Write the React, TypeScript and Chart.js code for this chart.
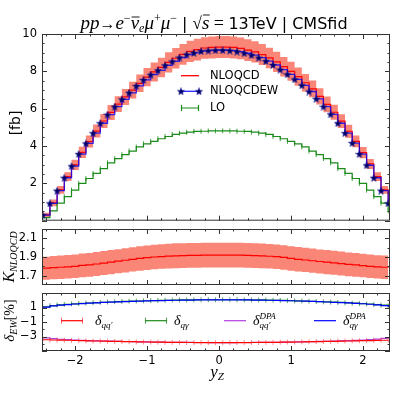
import React, { useEffect, useRef } from "react";
import { Chart, registerables } from "chart.js";
Chart.register(...registerables);

// ---------- data ----------
const binEdges = [-2.45, -2.35, -2.25, -2.15, -2.05, -1.95, -1.85, -1.75, -1.65, -1.55, -1.45, -1.35, -1.25, -1.15, -1.05, -0.95, -0.85, -0.75, -0.65, -0.55, -0.45, -0.35, -0.25, -0.15, -0.05, 0.05, 0.15, 0.25, 0.35, 0.45, 0.55, 0.65, 0.75, 0.85, 0.95, 1.05, 1.15, 1.25, 1.35, 1.45, 1.55, 1.65, 1.75, 1.85, 1.95, 2.05, 2.15, 2.25, 2.35];

const nloqcd = [0.31, 0.95, 1.65, 2.36, 2.99, 3.66, 4.24, 4.80, 5.34, 5.80, 6.24, 6.63, 6.99, 7.36, 7.69, 7.97, 8.21, 8.48, 8.70, 8.91, 9.07, 9.16, 9.25, 9.28, 9.30, 9.30, 9.28, 9.23, 9.14, 9.04, 8.90, 8.72, 8.51, 8.25, 8.00, 7.72, 7.39, 7.06, 6.66, 6.23, 5.81, 5.33, 4.79, 4.25, 3.65, 3.04, 2.36, 1.65, 0.95];
const nloqcdBandHalf = [0.12, 0.18, 0.21, 0.24, 0.27, 0.30, 0.32, 0.35, 0.37, 0.40, 0.42, 0.43, 0.45, 0.47, 0.49, 0.51, 0.52, 0.54, 0.55, 0.56, 0.57, 0.58, 0.58, 0.59, 0.59, 0.59, 0.59, 0.58, 0.58, 0.57, 0.56, 0.55, 0.54, 0.52, 0.51, 0.49, 0.47, 0.45, 0.43, 0.42, 0.40, 0.37, 0.35, 0.32, 0.30, 0.27, 0.24, 0.21, 0.18];
const nloqcdew = [0.30, 0.93, 1.61, 2.30, 2.92, 3.57, 4.14, 4.69, 5.22, 5.68, 6.11, 6.50, 6.85, 7.22, 7.54, 7.82, 8.05, 8.32, 8.53, 8.74, 8.90, 8.99, 9.08, 9.11, 9.13, 9.13, 9.11, 9.06, 8.97, 8.87, 8.73, 8.55, 8.34, 8.09, 7.84, 7.57, 7.25, 6.92, 6.53, 6.11, 5.70, 5.22, 4.69, 4.16, 3.57, 2.97, 2.30, 1.61, 0.93];
const lo = [0.17, 0.53, 0.94, 1.29, 1.64, 2.00, 2.26, 2.53, 2.79, 3.10, 3.33, 3.54, 3.73, 3.95, 4.12, 4.25, 4.39, 4.51, 4.62, 4.69, 4.74, 4.78, 4.79, 4.81, 4.81, 4.81, 4.81, 4.79, 4.78, 4.74, 4.69, 4.62, 4.51, 4.39, 4.25, 4.12, 3.95, 3.73, 3.54, 3.33, 3.10, 2.79, 2.53, 2.26, 2.00, 1.64, 1.29, 0.94, 0.53];

const kNloqcd = [1.78, 1.787, 1.79, 1.795, 1.80, 1.81, 1.815, 1.825, 1.835, 1.845, 1.855, 1.865, 1.875, 1.885, 1.893, 1.90, 1.905, 1.91, 1.913, 1.915, 1.917, 1.918, 1.92, 1.92, 1.92, 1.92, 1.92, 1.92, 1.918, 1.915, 1.912, 1.908, 1.903, 1.895, 1.885, 1.875, 1.868, 1.86, 1.852, 1.845, 1.838, 1.83, 1.822, 1.815, 1.808, 1.80, 1.795, 1.79, 1.787];
const kBandHalf = [0.124, 0.125, 0.125, 0.126, 0.126, 0.127, 0.127, 0.128, 0.128, 0.129, 0.129, 0.130, 0.130, 0.131, 0.131, 0.132, 0.132, 0.132, 0.133, 0.133, 0.133, 0.133, 0.133, 0.133, 0.133, 0.133, 0.133, 0.133, 0.133, 0.133, 0.133, 0.132, 0.132, 0.132, 0.131, 0.131, 0.130, 0.130, 0.129, 0.129, 0.128, 0.128, 0.127, 0.127, 0.126, 0.126, 0.125, 0.125, 0.124];

const deltaQQ = [-3.45, -3.48, -3.50, -3.52, -3.55, -3.57, -3.60, -3.62, -3.64, -3.66, -3.68, -3.70, -3.72, -3.74, -3.76, -3.77, -3.78, -3.80, -3.81, -3.82, -3.83, -3.84, -3.84, -3.85, -3.85, -3.85, -3.85, -3.84, -3.84, -3.83, -3.82, -3.81, -3.80, -3.78, -3.77, -3.76, -3.74, -3.72, -3.70, -3.68, -3.66, -3.64, -3.62, -3.60, -3.58, -3.56, -3.54, -3.52, -3.50];
const deltaQG = [1.10, 1.25, 1.35, 1.43, 1.50, 1.56, 1.62, 1.67, 1.72, 1.76, 1.80, 1.84, 1.87, 1.90, 1.93, 1.96, 1.98, 2.00, 2.02, 2.04, 2.05, 2.06, 2.07, 2.07, 2.07, 2.07, 2.07, 2.07, 2.06, 2.05, 2.04, 2.02, 2.00, 1.98, 1.95, 1.92, 1.89, 1.86, 1.82, 1.78, 1.74, 1.70, 1.65, 1.60, 1.54, 1.48, 1.40, 1.32, 1.22];
const deltaQQdpa = [-3.20, -3.30, -3.38, -3.43, -3.48, -3.52, -3.56, -3.59, -3.62, -3.65, -3.67, -3.69, -3.71, -3.73, -3.75, -3.76, -3.78, -3.79, -3.80, -3.81, -3.82, -3.83, -3.83, -3.84, -3.84, -3.84, -3.84, -3.83, -3.83, -3.82, -3.81, -3.80, -3.79, -3.77, -3.76, -3.74, -3.72, -3.70, -3.68, -3.66, -3.63, -3.60, -3.57, -3.53, -3.48, -3.42, -3.35, -3.25, -3.10];
const deltaQGdpa = [1.05, 1.22, 1.33, 1.41, 1.48, 1.54, 1.60, 1.65, 1.70, 1.74, 1.78, 1.82, 1.85, 1.88, 1.91, 1.94, 1.96, 1.98, 2.00, 2.02, 2.03, 2.04, 2.05, 2.05, 2.05, 2.05, 2.05, 2.05, 2.04, 2.03, 2.02, 2.00, 1.98, 1.96, 1.93, 1.90, 1.87, 1.84, 1.80, 1.76, 1.72, 1.68, 1.63, 1.58, 1.52, 1.45, 1.36, 1.25, 1.08];

const xTickLabels = [-2, -1, 0, 1, 2];
const topYTicks = [2, 4, 6, 8, 10];
const kYTicks = [1.7, 1.9, 2.1];
const ewYTicks = [1, -1, -3];

// ---------- layout / style ----------
const X_MIN = -2.46;
const X_MAX = 2.375;
const AXIS_W = 42;
const PAD_R = 9;
const TICK_FONT = { family: "'DejaVu Sans'", size: 11.5 };
const SALMON = "#f98676";

const pts = (arr: number[]) => binEdges.map((x, i) => ({ x, y: arr[i] }));
const ptsOff = (arr: number[], h: number[], s: number) => binEdges.map((x, i) => ({ x, y: arr[i] + s * h[i] }));
const fmt = (v: number) => (v < 0 ? "\u2212" + String(Math.abs(v)) : String(v));

type Run = { t?: string; f: string; dy?: number; over?: number; sup?: string; sub?: string };
const MI = (s: number) => `italic ${s}px 'Liberation Serif'`;
const RM = (s: number) => `${s}px 'Liberation Serif'`;
const SA = (s: number) => `${s}px 'DejaVu Sans'`;

function runW(ctx: CanvasRenderingContext2D, r: Run) {
  ctx.font = r.f;
  if (r.sup !== undefined) return Math.max(ctx.measureText(r.sup).width, ctx.measureText(r.sub || "").width);
  return ctx.measureText(r.t || "").width;
}
function drawRuns(ctx: CanvasRenderingContext2D, runs: Run[], x: number, y: number, align: "left" | "center") {
  const ws = runs.map((r) => runW(ctx, r));
  const total = ws.reduce((a, b) => a + b, 0);
  let cx = align === "center" ? x - total / 2 : x;
  ctx.textAlign = "left";
  ctx.textBaseline = "alphabetic";
  ctx.fillStyle = "#000";
  runs.forEach((r, i) => {
    ctx.font = r.f;
    if (r.sup !== undefined) {
      ctx.fillText(r.sup, cx, y - 6);
      ctx.fillText(r.sub || "", cx, y + 3);
    } else {
      ctx.fillText(r.t || "", cx, y + (r.dy || 0));
      if (r.over) {
        ctx.save();
        ctx.strokeStyle = "#000";
        ctx.lineWidth = 0.9;
        ctx.beginPath();
        ctx.moveTo(cx + 1, y - r.over);
        ctx.lineTo(cx + ws[i] + 0.5, y - r.over);
        ctx.stroke();
        ctx.restore();
      }
    }
    cx += ws[i];
  });
}
function drawRotated(ctx: CanvasRenderingContext2D, runs: Run[], cx: number, cy: number) {
  ctx.save();
  ctx.translate(cx, cy);
  ctx.rotate(-Math.PI / 2);
  drawRuns(ctx, runs, 0, 5, "center");
  ctx.restore();
}

function frameTicks(yMajor: number[], yMinor: number[]) {
  return {
    id: "frameTicks",
    afterDatasetsDraw(chart: any) {
      const { ctx, chartArea: a, scales } = chart;
      const xs = scales.x, ys = scales.y;
      ctx.save();
      ctx.strokeStyle = "#333";
      ctx.lineWidth = 1;
      ctx.beginPath();
      const xMaj = [-2, -1, 0, 1, 2];
      const xMin: number[] = [];
      for (let k = -12; k <= 11; k++) if (k % 5 !== 0) xMin.push(k / 5);
      const vx = (v: number, len: number) => {
        const p = Math.round(xs.getPixelForValue(v)) + 0.5;
        ctx.moveTo(p, a.bottom); ctx.lineTo(p, a.bottom - len);
        ctx.moveTo(p, a.top); ctx.lineTo(p, a.top + len);
      };
      const hy = (v: number, len: number) => {
        const p = Math.round(ys.getPixelForValue(v)) + 0.5;
        ctx.moveTo(a.left, p); ctx.lineTo(a.left + len, p);
        ctx.moveTo(a.right, p); ctx.lineTo(a.right - len, p);
      };
      xMaj.forEach((v) => vx(v, 5));
      xMin.forEach((v) => vx(v, 2.5));
      yMajor.forEach((v) => hy(v, 5));
      yMinor.forEach((v) => hy(v, 2.5));
      ctx.stroke();
      ctx.strokeRect(a.left + 0.5, a.top + 0.5, a.right - a.left - 1, a.bottom - a.top - 1);
      ctx.restore();
    },
  };
}

function yScale(min: number, max: number, ticks: number[]) {
  return {
    min,
    max,
    grid: { display: false, drawTicks: false },
    border: { display: false },
    afterBuildTicks: (s: any) => {
      s.ticks = ticks.map((v) => ({ value: v }));
    },
    afterFit: (s: any) => {
      s.width = AXIS_W;
      s.paddingTop = 0;
      s.paddingBottom = 0;
    },
    ticks: { font: TICK_FONT, color: "#000", padding: 5, callback: (v: any) => fmt(Number(v)) },
  };
}
const hiddenX = { type: "linear", min: X_MIN, max: X_MAX, display: false };

function makeStar(): HTMLCanvasElement {
  const c = document.createElement("canvas");
  c.width = 8;
  c.height = 8;
  const g = c.getContext("2d")!;
  g.beginPath();
  for (let i = 0; i < 10; i++) {
    const r = i % 2 === 0 ? 3.8 : 1.6;
    const ang = -Math.PI / 2 + (i * Math.PI) / 5;
    const x = 4 + r * Math.cos(ang), y = 4.4 + r * Math.sin(ang);
    if (i === 0) g.moveTo(x, y); else g.lineTo(x, y);
  }
  g.closePath();
  g.fillStyle = "#000066";
  g.fill();
  g.strokeStyle = "#1a1aa0";
  g.lineWidth = 0.5;
  g.stroke();
  return c;
}

function cfgTop(star: HTMLCanvasElement): any {
  const hi = ptsOff(nloqcd, nloqcdBandHalf, 1);
  const lw = ptsOff(nloqcd, nloqcdBandHalf, -1);
  const deco = {
    id: "decoTop",
    afterDraw(chart: any) {
      const ctx = chart.ctx as CanvasRenderingContext2D;
      ctx.save();
      drawRuns(ctx, [
        { t: "pp", f: MI(19) },
        { t: "\u2192", f: RM(16) },
        { t: "e", f: MI(19) },
        { t: "\u2212", f: RM(12), dy: -7 },
        { t: "\u03bd", f: MI(19), over: 12 },
        { t: "e", f: MI(12), dy: 3 },
        { t: "\u03bc", f: MI(19) },
        { t: "+", f: RM(12), dy: -7 },
        { t: "\u03bc", f: MI(19) },
        { t: "\u2212", f: RM(12), dy: -7 },
        { t: " | ", f: SA(16) },
        { t: "\u221a", f: RM(17) },
        { t: "s", f: MI(19), over: 14 },
        { t: " = ", f: RM(18) },
        { t: "13TeV | CMSfid", f: SA(16) },
      ], 214, 29, "center");
      ctx.font = SA(14);
      ctx.textAlign = "center";
      ctx.textBaseline = "middle";
      ctx.save();
      ctx.translate(16, 123);
      ctx.rotate(-Math.PI / 2);
      ctx.fillText("[fb]", 0, 0);
      ctx.restore();
      // legend
      const x1 = 181, x2 = 199, tx = 210;
      const rows = [75.7, 91.3, 108];
      ctx.lineWidth = 1.3;
      ctx.strokeStyle = "red";
      ctx.beginPath(); ctx.moveTo(x1, rows[0]); ctx.lineTo(x2, rows[0]); ctx.stroke();
      ctx.strokeStyle = "rgba(0,0,255,0.85)";
      ctx.beginPath(); ctx.moveTo(x1, rows[1]); ctx.lineTo(x2, rows[1]); ctx.stroke();
      ctx.drawImage(star, x1 - 4, rows[1] - 4);
      ctx.drawImage(star, x2 - 4, rows[1] - 4);
      ctx.strokeStyle = "#1a8a1a";
      ctx.lineWidth = 1.2;
      ctx.beginPath();
      ctx.moveTo(x1, rows[2]); ctx.lineTo(x2, rows[2]);
      ctx.moveTo(x1 + 0.5, rows[2] - 3); ctx.lineTo(x1 + 0.5, rows[2] + 3);
      ctx.moveTo(x2 - 0.5, rows[2] - 3); ctx.lineTo(x2 - 0.5, rows[2] + 3);
      ctx.stroke();
      ctx.font = SA(11.5);
      ctx.textAlign = "left";
      ctx.textBaseline = "middle";
      ctx.fillStyle = "#000";
      ctx.fillText("NLOQCD", tx, rows[0]);
      ctx.fillText("NLOQCDEW", tx, rows[1]);
      ctx.fillText("LO", tx, rows[2]);
      ctx.restore();
    },
  };
  const majors = [0, 2, 4, 6, 8, 10];
  const minors: number[] = [];
  for (let k = 1; k < 20; k++) if (k % 4 !== 0) minors.push(k / 2);
  return {
    type: "line",
    data: {
      datasets: [
        { data: lw, stepped: "before", borderWidth: 0, pointRadius: 0, fill: false, order: 10 },
        { data: hi, stepped: "before", borderWidth: 0, pointRadius: 0, fill: "-1", backgroundColor: SALMON, order: 9 },
        { data: pts(lo), stepped: "before", borderColor: "#1a8a1a", borderWidth: 1.2, pointStyle: "line", pointRotation: 90, pointRadius: 2.5, pointBorderColor: "rgba(26,138,26,0.8)", pointBorderWidth: 1, order: 5 },
        { data: pts(nloqcd), stepped: "before", borderColor: "red", borderWidth: 1.2, pointRadius: 0, order: 3 },
        { data: pts(nloqcdew), stepped: "before", borderColor: "rgba(0,0,255,0.8)", borderWidth: 1.3, pointStyle: star, pointRadius: 4, order: 1 },
      ],
    },
    options: {
      responsive: false,
      animation: false,
      events: [],
      layout: { padding: { left: 0, right: PAD_R, top: 34, bottom: 4 } },
      plugins: { legend: { display: false }, tooltip: { enabled: false } },
      scales: { x: hiddenX, y: yScale(0, 10, topYTicks) },
    },
    plugins: [frameTicks(majors, minors), deco],
  };
}

function cfgK(): any {
  const hi = ptsOff(kNloqcd, kBandHalf, 1);
  const lw = ptsOff(kNloqcd, kBandHalf, -1);
  const deco = {
    id: "decoK",
    afterDraw(chart: any) {
      const ctx = chart.ctx as CanvasRenderingContext2D;
      drawRotated(ctx, [{ t: "K", f: MI(16) }, { t: "NLOQCD", f: MI(10), dy: 3 }], 9, 31);
    },
  };
  return {
    type: "line",
    data: {
      datasets: [
        { data: lw, stepped: "before", borderWidth: 0, pointRadius: 0, fill: false, order: 10 },
        { data: hi, stepped: "before", borderWidth: 0, pointRadius: 0, fill: "-1", backgroundColor: SALMON, order: 9 },
        { data: pts(kNloqcd), stepped: "before", borderColor: "red", borderWidth: 1.2, pointRadius: 0, order: 1 },
      ],
    },
    options: {
      responsive: false,
      animation: false,
      events: [],
      layout: { padding: { left: 0, right: PAD_R, top: 3, bottom: 3 } },
      plugins: { legend: { display: false }, tooltip: { enabled: false } },
      scales: { x: hiddenX, y: yScale(1.6, 2.2, kYTicks) },
    },
    plugins: [frameTicks([1.7, 1.9, 2.1], [1.8, 2.0]), deco],
  };
}

function cfgEW(): any {
  const deco = {
    id: "decoEW",
    afterDraw(chart: any) {
      const ctx = chart.ctx as CanvasRenderingContext2D;
      ctx.save();
      drawRotated(ctx, [{ t: "\u03b4", f: MI(15) }, { t: "EW", f: MI(10), dy: 3 }, { t: "[%]", f: RM(14) }], 9, 32.5);
      drawRuns(ctx, [{ t: "y", f: MI(17) }, { t: "Z", f: MI(11), dy: 3 }], 217, 89, "center");
      // legend
      const ly = 32.7;
      const sym = (x1: number, col: string, caps: string | null) => {
        ctx.strokeStyle = col;
        ctx.lineWidth = 1.2;
        ctx.beginPath();
        ctx.moveTo(x1, ly); ctx.lineTo(x1 + 22, ly);
        ctx.stroke();
        if (caps) {
          ctx.strokeStyle = caps;
          ctx.lineWidth = 1;
          ctx.beginPath();
          ctx.moveTo(x1 + 0.5, ly - 3); ctx.lineTo(x1 + 0.5, ly + 3);
          ctx.moveTo(x1 + 21.5, ly - 3); ctx.lineTo(x1 + 21.5, ly + 3);
          ctx.stroke();
        }
      };
      sym(61, "red", "rgba(255,60,60,0.8)");
      sym(145, "#1a8a1a", "rgba(26,138,26,0.8)");
      sym(224, "#b040e0", null);
      sym(314, "blue", null);
      const by = 37;
      drawRuns(ctx, [{ t: "\u03b4", f: MI(14) }, { t: "qq\u2032", f: MI(9), dy: 3 }], 95, by, "left");
      drawRuns(ctx, [{ t: "\u03b4", f: MI(14) }, { t: "q\u03b3", f: MI(9), dy: 3 }], 174, by, "left");
      drawRuns(ctx, [{ t: "\u03b4", f: MI(14) }, { f: MI(9), sup: "DPA", sub: "qq\u2032" }], 253, by, "left");
      drawRuns(ctx, [{ t: "\u03b4", f: MI(14) }, { f: MI(9), sup: "DPA", sub: "q\u03b3" }], 343, by, "left");
      ctx.restore();
    },
  };
  return {
    type: "line",
    data: {
      datasets: [
        { data: pts(deltaQG), stepped: "before", borderColor: "#1a8a1a", borderWidth: 1.2, pointStyle: "line", pointRotation: 90, pointRadius: 2.5, pointBorderColor: "rgba(26,138,26,0.7)", pointBorderWidth: 1, order: 8 },
        { data: pts(deltaQQdpa), stepped: "before", borderColor: "#b040e0", borderWidth: 1.2, pointRadius: 0, order: 6 },
        { data: pts(deltaQQ), stepped: "before", borderColor: "red", borderWidth: 1.2, pointStyle: "line", pointRotation: 90, pointRadius: 2.5, pointBorderColor: "rgba(255,60,60,0.6)", pointBorderWidth: 1, order: 4 },
        { data: pts(deltaQGdpa), stepped: "before", borderColor: "blue", borderWidth: 1.2, pointRadius: 0, order: 2 },
      ],
    },
    options: {
      responsive: false,
      animation: false,
      events: [],
      layout: { padding: { left: 0, right: PAD_R, top: 5, bottom: 0 } },
      plugins: { legend: { display: false }, tooltip: { enabled: false } },
      scales: {
        x: {
          type: "linear",
          min: X_MIN,
          max: X_MAX,
          grid: { display: false, drawTicks: false },
          border: { display: false },
          afterBuildTicks: (s: any) => {
            s.ticks = xTickLabels.map((v) => ({ value: v }));
          },
          afterFit: (s: any) => {
            s.height = 48;
            s.paddingLeft = 0;
            s.paddingRight = 0;
          },
          ticks: { font: TICK_FONT, color: "#000", padding: 3, maxRotation: 0, callback: (v: any) => fmt(Number(v)) },
        },
        y: yScale(-5, 3, ewYTicks),
      },
    },
    plugins: [frameTicks([-5, -3, -1, 1, 3], [-4, -2, 0, 2]), deco],
  };
}

export default function App() {
  const r1 = useRef<HTMLCanvasElement>(null);
  const r2 = useRef<HTMLCanvasElement>(null);
  const r3 = useRef<HTMLCanvasElement>(null);
  useEffect(() => {
    const star = makeStar();
    const charts = [
      new Chart(r1.current!, cfgTop(star)),
      new Chart(r2.current!, cfgK()),
      new Chart(r3.current!, cfgEW()),
    ];
    return () => charts.forEach((c) => c.destroy());
  }, []);
  return (
    <div style={{ position: "absolute", left: 0, top: 0, width: 399, height: 399, background: "#fff" }}>
      <canvas ref={r1} width={399} height={226} style={{ position: "absolute", left: 0, top: 0, width: 399, height: 226 }} />
      <canvas ref={r2} width={399} height={62} style={{ position: "absolute", left: 0, top: 226, width: 399, height: 62 }} />
      <canvas ref={r3} width={399} height={111} style={{ position: "absolute", left: 0, top: 288, width: 399, height: 111 }} />
    </div>
  );
}
